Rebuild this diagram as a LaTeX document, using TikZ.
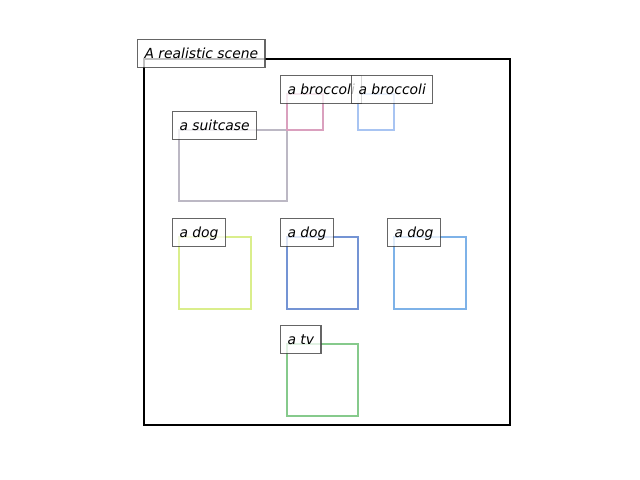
\documentclass[tikz,border=0pt]{standalone}
\usepackage{fontspec}
\setmainfont{DejaVu Sans}
\begin{document}
\begin{tikzpicture}[x=0.72pt,y=-0.72pt,
  lbl/.style={draw=black!75,line width=1pt,fill=white,fill opacity=0.75,text opacity=1,draw opacity=0.8,
    anchor=south west,inner xsep=4.9pt,inner ysep=5.2pt,text height=8.2pt,text depth=1.5pt,
    font=\fontsize{10pt}{12pt}\selectfont\itshape},
  bx/.style={line width=2pt}]
\useasboundingbox (0,0) rectangle (640,480);
\definecolor{cSuit}{RGB}{188,184,196}
\definecolor{cBroA}{RGB}{218,160,190}
\definecolor{cBroB}{RGB}{168,196,242}
\definecolor{cDogA}{RGB}{218,238,140}
\definecolor{cDogB}{RGB}{116,148,212}
\definecolor{cDogC}{RGB}{126,178,232}
\definecolor{cTv}{RGB}{134,202,140}
\draw[line width=1.8pt,black] (144,59) rectangle (510,425);
\draw[bx,cSuit] (179,130) rectangle (287,201);
\draw[bx,cBroA] (287,94) rectangle (323,130);
\draw[bx,cBroB] (358,94) rectangle (394,130);
\draw[bx,cDogA] (179,237) rectangle (251,309);
\draw[bx,cDogB] (287,237) rectangle (358,309);
\draw[bx,cDogC] (394,237) rectangle (466,309);
\draw[bx,cTv] (287,344) rectangle (358,416);
\node[lbl] (title) at (137,68) {A realistic scene};
\node[lbl] (suit) at (172,140) {a suitcase};
\node[lbl] (broA) at (280,104) {a broccoli};
\node[lbl] (broB) at (351,104) {a broccoli};
\node[lbl] (dogA) at (172,247) {a dog};
\node[lbl] (dogB) at (280,247) {a dog};
\node[lbl] (dogC) at (387,247) {a dog};
\node[lbl] (tv) at (280,354) {a tv};
\end{tikzpicture}
\end{document}
